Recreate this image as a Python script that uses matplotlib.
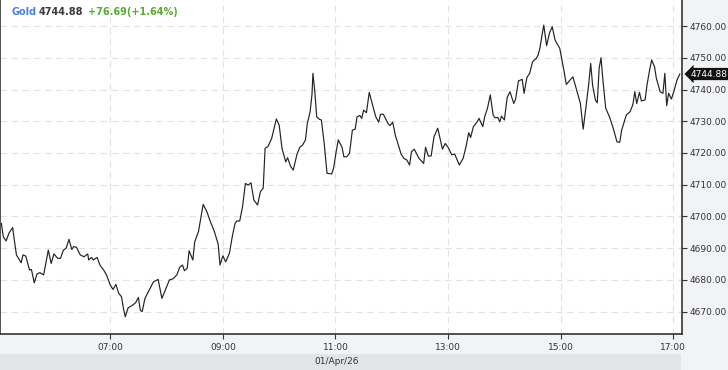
import matplotlib

matplotlib.use("Agg")

import matplotlib.pyplot as plt
from matplotlib.patches import Rectangle
from matplotlib.ticker import FixedLocator, FuncFormatter
import matplotlib.transforms as mtransforms

# minutes since midnight, 01/Apr/26
TIMES = [
    304, 306, 309, 312, 316, 317, 320, 325, 327, 330,
    334, 336, 339, 342, 345, 349, 354, 357, 360, 364,
    367, 370, 373, 376, 379, 381, 384, 388, 392, 396,
    397, 400, 402, 406, 409, 413, 416, 420, 423, 426,
    429, 432, 434, 436, 439, 443, 447, 450, 452, 454,
    457, 461, 462, 466, 470, 471, 475, 478, 483, 487,
    491, 494, 497, 499, 502, 504, 508, 510, 514, 519,
    523, 526, 531, 535, 537, 540, 543, 547, 550, 553,
    555, 558, 561, 564, 567, 570, 573, 577, 580, 583,
    585, 588, 592, 597, 600, 603, 607, 609, 612, 615,
    619, 622, 625, 628, 630, 633, 635, 636, 638, 640,
    643, 645, 648, 651, 656, 658, 661, 663, 667, 669,
    672, 675, 678, 681, 683, 686, 688, 690, 693, 696,
    700, 703, 706, 708, 711, 716, 718, 721, 724, 726,
    730, 733, 736, 739, 741, 744, 749, 754, 756, 759,
    762, 765, 769, 771, 774, 777, 780, 784, 787, 792,
    796, 799, 802, 804, 807, 811, 813, 817, 819, 822,
    825, 828, 830, 833, 835, 837, 840, 843, 846, 850,
    852, 855, 859, 861, 864, 867, 870, 872, 874, 876,
    878, 880, 882, 885, 888, 891, 894, 896, 899, 903,
    906, 910, 913, 916, 921, 924, 927, 930, 932, 934,
    937, 939, 941, 943, 945, 948, 952, 956, 960, 963,
    965, 968, 970, 974, 977, 979, 981, 984, 986, 990,
    992, 995, 997, 1000, 1002, 1006, 1009, 1011, 1013, 1015,
    1018, 1021, 1024, 1027,
]

PRICES = [
    4697.8, 4693.6, 4692.3, 4694.7, 4696.5, 4694.2, 4687.9, 4685.4, 4687.9, 4687.5,
    4683.1, 4683.3, 4679.1, 4681.9, 4682.3, 4681.6, 4689.4, 4685.2, 4688.2, 4686.8,
    4686.8, 4689.4, 4690.0, 4692.8, 4689.6, 4690.5, 4690.3, 4687.9, 4687.3, 4688.2,
    4686.3, 4687.1, 4686.3, 4687.1, 4684.7, 4683.1, 4681.6, 4678.4, 4677.0, 4678.6,
    4675.8, 4674.7, 4671.1, 4668.4, 4671.2, 4671.9, 4672.8, 4674.5, 4670.5, 4670.0,
    4674.2, 4676.5, 4677.0, 4679.4, 4680.0, 4680.2, 4674.2, 4676.3, 4680.0, 4680.4,
    4681.6, 4684.0, 4684.7, 4682.9, 4683.7, 4689.2, 4686.3, 4692.0, 4695.2, 4703.8,
    4701.5, 4698.9, 4695.2, 4691.3, 4684.7, 4687.6, 4685.7, 4688.4, 4693.6, 4697.8,
    4698.6, 4698.6, 4703.1, 4710.4, 4709.9, 4710.6, 4705.2, 4703.6, 4707.8, 4708.9,
    4721.5, 4722.0, 4724.6, 4730.7, 4728.8, 4721.5, 4717.2, 4718.5, 4715.9, 4714.6,
    4719.6, 4721.8, 4722.5, 4724.1, 4729.3, 4733.0, 4738.5, 4745.1, 4739.3, 4731.4,
    4730.6, 4730.4, 4723.0, 4713.6, 4713.4, 4715.2, 4720.9, 4724.1, 4721.8, 4718.8,
    4718.8, 4719.9, 4727.2, 4727.5, 4731.4, 4731.8, 4730.9, 4733.5, 4732.7, 4739.1,
    4734.6, 4731.4, 4729.7, 4732.2, 4732.2, 4729.3, 4728.6, 4729.7, 4725.3, 4723.5,
    4719.6, 4718.3, 4717.8, 4716.2, 4720.4, 4721.2, 4718.3, 4716.7, 4721.8, 4719.0,
    4719.1, 4725.1, 4727.8, 4725.1, 4721.2, 4723.0, 4721.8, 4719.4, 4719.7, 4716.2,
    4718.3, 4721.8, 4726.4, 4724.9, 4728.3, 4729.8, 4730.9, 4728.3, 4731.4, 4734.1,
    4738.3, 4732.0, 4731.1, 4731.2, 4729.8, 4731.6, 4730.4, 4737.5, 4739.3, 4735.6,
    4737.0, 4742.7, 4743.2, 4738.8, 4743.8, 4745.1, 4748.7, 4749.3, 4749.8, 4750.9,
    4753.2, 4756.9, 4760.3, 4753.8, 4757.7, 4759.8, 4755.6, 4754.5, 4753.0, 4746.7,
    4741.6, 4743.0, 4744.0, 4740.9, 4735.6, 4727.5, 4734.6, 4742.0, 4748.2, 4741.4,
    4736.7, 4735.8, 4746.7, 4750.0, 4743.0, 4734.1, 4731.4, 4727.8, 4723.5, 4723.4,
    4727.2, 4730.1, 4732.0, 4733.0, 4735.3, 4739.3, 4735.6, 4739.1, 4736.4, 4736.7,
    4741.4, 4746.5, 4749.3, 4747.2, 4743.5, 4739.3, 4738.8, 4745.1, 4734.9, 4738.8,
    4737.0, 4739.8, 4743.0, 4744.88,
]

X_TICK_HOURS = [7, 9, 11, 13, 15, 17]
Y_TICKS = [4670, 4680, 4690, 4700, 4710, 4720, 4730, 4740, 4750, 4760]

SYMBOL = "Gold"
LAST = "4744.88"
CHANGE = "+76.69(+1.64%)"
DATE_LABEL = "01/Apr/26"

W, H = 728, 370
PANEL = "#f2f3f5"
DATE_BAR = "#e3e4e6"
AXIS = "#333333"
GRID = "#e3e3e3"


def main() -> None:
    fig = plt.figure(figsize=(W / 100, H / 100), dpi=100, facecolor=PANEL)
    ax = fig.add_axes([0, 36 / H, 682 / W, 334 / H])
    ax.set_facecolor("white")

    # date strip under the time labels
    fig.patches.append(
        Rectangle((0, 0), 681 / W, 16 / H, transform=fig.transFigure,
                  facecolor=DATE_BAR, edgecolor="none", zorder=0)
    )

    hours = [t / 60 for t in TIMES]
    ax.plot(hours, PRICES, color="#222222", lw=0.85, zorder=3)

    ax.set_xlim(302.5 / 60, 1029.3 / 60)
    ax.set_ylim(4662.97, 4768.2)

    ax.xaxis.set_major_locator(FixedLocator(X_TICK_HOURS))
    ax.xaxis.set_major_formatter(FuncFormatter(lambda v, _: f"{int(round(v)):02d}:00"))
    ax.yaxis.set_major_locator(FixedLocator(Y_TICKS))
    ax.yaxis.set_major_formatter(FuncFormatter(lambda v, _: f"{v:.2f}"))
    ax.yaxis.tick_right()

    ax.grid(True, color=GRID, lw=0.8, linestyle=(0, (6, 4)), zorder=1)
    ax.tick_params(axis="both", colors=AXIS, labelsize=6.5, length=3.5, width=0.8,
                   direction="out", pad=2)
    ax.tick_params(axis="x", pad=3)
    for lbl in ax.get_xticklabels() + ax.get_yticklabels():
        lbl.set_color("#333333")

    for side in ("left", "bottom", "right"):
        ax.spines[side].set_color(AXIS)
        ax.spines[side].set_linewidth(1.2)
    ax.spines["top"].set_visible(False)

    # last price tag on the right axis
    trans = mtransforms.blended_transform_factory(ax.transAxes, ax.transData)
    ax.text(1.0 + 9 / 682, PRICES[-1], LAST, transform=trans, ha="left", va="center",
            fontsize=6.5, color="white", zorder=5, clip_on=False,
            bbox=dict(boxstyle="larrow,pad=0.18", facecolor="#111111", edgecolor="none"))

    # header
    ty = 1 - 12 / H
    fig.text(11 / W, ty, SYMBOL, color="#4a7fe6", fontsize=7, fontweight="bold",
             ha="left", va="center")
    fig.text(39 / W, ty, LAST, color="#3a3a3a", fontsize=7, fontweight="bold",
             ha="left", va="center")
    fig.text(88 / W, ty, CHANGE, color="#5aac34", fontsize=7, fontweight="bold",
             ha="left", va="center")

    fig.text(337 / W, 8 / H, DATE_LABEL, color="#333333", fontsize=6.5,
             ha="center", va="center")

    fig.savefig("out.png", dpi=100, facecolor=PANEL)
    plt.close(fig)


if __name__ == "__main__":
    main()
